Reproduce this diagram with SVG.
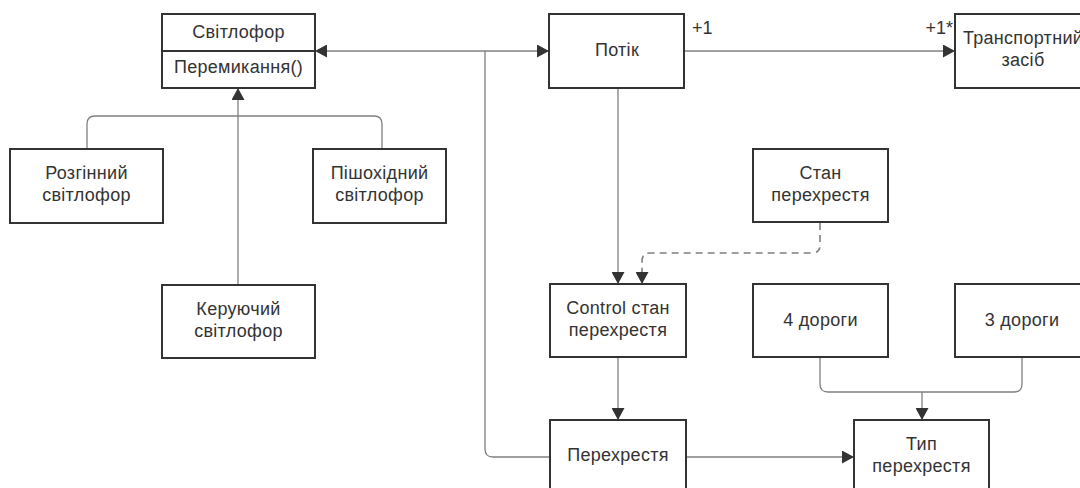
<svg xmlns="http://www.w3.org/2000/svg" width="1080" height="488" viewBox="0 0 1080 488">
  <style>
    .box { fill: #ffffff; stroke: #333333; stroke-width: 2; }
    .lbl { font-family: "Liberation Sans", Arial, sans-serif; font-size: 18px; fill: #333333; text-anchor: middle; letter-spacing: 0.3px; }
    .mult { font-family: "Liberation Sans", Arial, sans-serif; font-size: 18px; fill: #333333; }
    .wire { fill: none; stroke: #808080; stroke-width: 1.3; }
    .dash { fill: none; stroke: #808080; stroke-width: 1.6; stroke-dasharray: 7 5; }
  </style>
  <defs>
    <marker id="tri" viewBox="0 0 12 13" refX="12" refY="6.5" markerWidth="12" markerHeight="13" markerUnits="userSpaceOnUse" orient="auto-start-reverse">
      <path d="M0,0 L12,6.5 L0,13 Z" fill="#333333"/>
    </marker>
  </defs>
  <rect width="1080" height="488" fill="#ffffff"/>

  <!-- connectors -->
  <g id="connectors">
    <!-- association Світлофор <-> Потік -->
    <path class="wire" d="M315,51 L549,51" marker-start="url(#tri)" marker-end="url(#tri)"/>
    <!-- branch down to Перехрестя -->
    <path class="wire" d="M485,51 L485,449 Q485,457 493,457 L550,457"/>
    <!-- Потік -> Транспортний засіб -->
    <path class="wire" d="M683,51 L955,51" marker-end="url(#tri)"/>
    <!-- generalization tree -->
    <path class="wire" d="M87,149 L87,124 Q87,116 95,116 L374,116 Q382,116 382,124 L382,149"/>
    <path class="wire" d="M238,285 L238,88" marker-end="url(#tri)"/>
    <!-- Потік -> Control стан перехрестя -->
    <path class="wire" d="M618,88 L618,284" marker-end="url(#tri)"/>
    <!-- Стан перехрестя -> Control стан перехрестя (dependency) -->
    <path class="dash" d="M820,223 L820,245 Q820,253 812,253 L650,253 Q642,253 642,261 L642,284" marker-end="url(#tri)"/>
    <!-- Control стан перехрестя -> Перехрестя -->
    <path class="wire" d="M618,358 L618,420" marker-end="url(#tri)"/>
    <!-- Перехрестя -> Тип перехрестя -->
    <path class="wire" d="M686,457 L854,457" marker-end="url(#tri)"/>
    <!-- 4 дороги / 3 дороги -> Тип перехрестя -->
    <path class="wire" d="M820,358 L820,384 Q820,392 828,392 L1014,392 Q1022,392 1022,384 L1022,358"/>
    <path class="wire" d="M922,392 L922,420" marker-end="url(#tri)"/>
  </g>

  <!-- multiplicities -->
  <text class="mult" x="692" y="34">+1</text>
  <text class="mult" x="953" y="34" text-anchor="end">+1*</text>

  <g id="svitlofor">
    <rect class="box" x="162" y="14" width="153" height="74"/>
    <line x1="162" y1="51" x2="315" y2="51" stroke="#333333" stroke-width="2"/>
    <text class="lbl" x="238.5" y="37.5">Світлофор</text>
    <text class="lbl" x="238.5" y="72.5">Перемикання()</text>
  </g>

  <g id="potik">
    <rect class="box" x="549" y="14" width="135" height="74"/>
    <text class="lbl" x="617" y="55.5">Потік</text>
  </g>

  <g id="transport">
    <rect class="box" x="955" y="14" width="134" height="74"/>
    <text class="lbl" x="1023" y="44">Транспортний</text>
    <text class="lbl" x="1023" y="66">засіб</text>
  </g>

  <g id="rozginnyi">
    <rect class="box" x="10" y="149" width="153" height="74"/>
    <text class="lbl" x="86.5" y="179">Розгінний</text>
    <text class="lbl" x="86.5" y="201">світлофор</text>
  </g>

  <g id="pishokhidnyi">
    <rect class="box" x="313" y="149" width="133" height="74"/>
    <text class="lbl" x="379.5" y="179">Пішохідний</text>
    <text class="lbl" x="379.5" y="201">світлофор</text>
  </g>

  <g id="keruiuchyi">
    <rect class="box" x="162" y="285" width="153" height="73"/>
    <text class="lbl" x="238.5" y="314.5">Керуючий</text>
    <text class="lbl" x="238.5" y="336.5">світлофор</text>
  </g>

  <g id="stan">
    <rect class="box" x="753" y="149" width="135" height="73"/>
    <text class="lbl" x="820.5" y="179">Стан</text>
    <text class="lbl" x="820.5" y="201">перехрестя</text>
  </g>

  <g id="control">
    <rect class="box" x="550" y="284" width="136" height="73"/>
    <text class="lbl" x="618" y="314">Control стан</text>
    <text class="lbl" x="618" y="336">перехрестя</text>
  </g>

  <g id="dorogy4">
    <rect class="box" x="753" y="284" width="135" height="73"/>
    <text class="lbl" x="820.5" y="325.5">4 дороги</text>
  </g>

  <g id="dorogy3">
    <rect class="box" x="955" y="284" width="134" height="73"/>
    <text class="lbl" x="1022" y="325.5">3 дороги</text>
  </g>

  <g id="perekhrestia">
    <rect class="box" x="550" y="420" width="136" height="74"/>
    <text class="lbl" x="618" y="461">Перехрестя</text>
  </g>

  <g id="typ">
    <rect class="box" x="854" y="420" width="135" height="74"/>
    <text class="lbl" x="921.5" y="449.5">Тип</text>
    <text class="lbl" x="921.5" y="471.5">перехрестя</text>
  </g>
</svg>
